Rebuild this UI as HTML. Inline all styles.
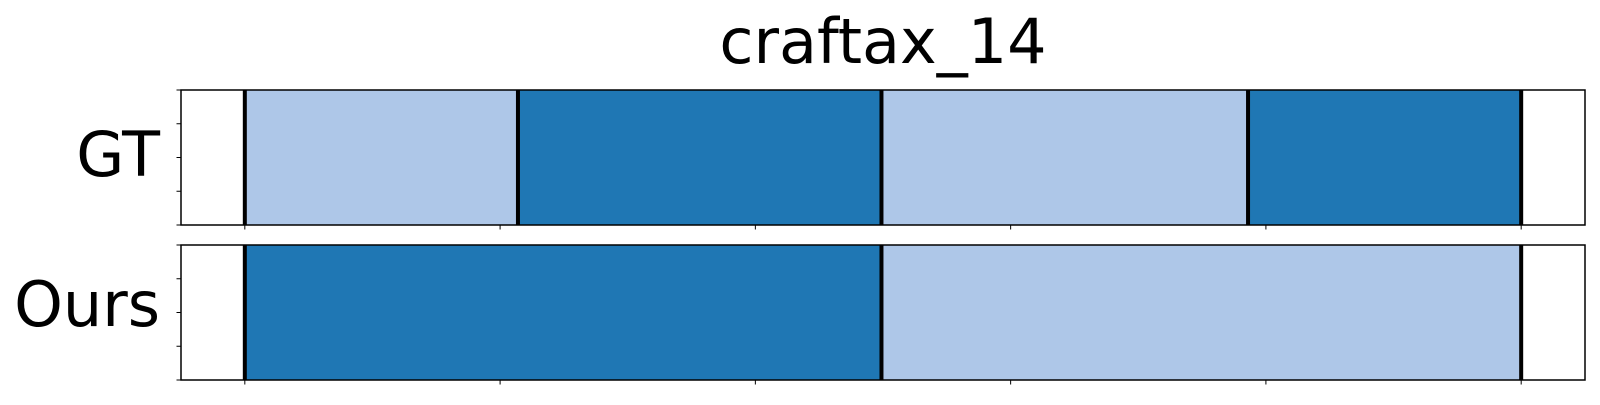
<!DOCTYPE html>
<html><head><meta charset="utf-8"><style>
html,body{margin:0;padding:0;background:#fff;}
svg text{font-family:"DejaVu Sans","Liberation Sans",sans-serif;fill:#000;}
</style></head><body>
<svg id="chart" width="1600" height="400" viewBox="0 0 1600 400" xmlns="http://www.w3.org/2000/svg">
<text x="883" y="63" font-size="62" text-anchor="middle">craftax_14</text>
<g id="plots"></g>
</svg>
<script>
const rowLabels = ["GT", "Ours"];
const gtBounds = [0, 53.5, 124.7, 196.5, 250];
const gtColors = ["light", "dark", "light", "dark"];
const oursBounds = [0, 124.7, 250];
const oursColors = ["dark", "light"];
const xTicks = [0, 50, 100, 150, 200, 250];
const yTicks = [0, 0.25, 0.5, 0.75, 1];

const NS = "http://www.w3.org/2000/svg";
const X0 = 181, X1 = 1585, XMIN = -12.5, XMAX = 262.5;
const xs = v => X0 + (v - XMIN) / (XMAX - XMIN) * (X1 - X0);
const palette = {light: "#aec7e8", dark: "#1f77b4"};
const panels = [
  {label: rowLabels[0], bounds: gtBounds, colors: gtColors, top: 90, bottom: 225, ly: 176},
  {label: rowLabels[1], bounds: oursBounds, colors: oursColors, top: 245, bottom: 380, ly: 326}
];
const root = document.getElementById("plots");
function mk(tag, attrs) {
  const e = document.createElementNS(NS, tag);
  for (const k in attrs) e.setAttribute(k, attrs[k]);
  root.appendChild(e);
  return e;
}
panels.forEach((p, pi) => {
  const ys = v => p.bottom - v * (p.bottom - p.top);
  for (let i = 0; i < p.colors.length; i++) {
    const r = mk("rect", {x: xs(p.bounds[i]), y: p.top, width: xs(p.bounds[i + 1]) - xs(p.bounds[i]), height: p.bottom - p.top, fill: palette[p.colors[i]]});
    
    
  }
  p.bounds.forEach((b, i) => {
    const l = mk("line", {x1: xs(b), x2: xs(b), y1: p.top, y2: p.bottom, stroke: "#000", "stroke-width": 4});
    
    
  });
  const frame = mk("rect", {x: X0, y: p.top, width: X1 - X0, height: p.bottom - p.top, fill: "none", stroke: "#000", "stroke-width": 1.5});
  
  
  yTicks.forEach(t => {
    const tk = mk("line", {x1: X0 - 4.5, x2: X0, y1: ys(t), y2: ys(t), stroke: "#000", "stroke-width": 1});
    
    
  });
  xTicks.forEach(t => {
    const tk = mk("line", {x1: xs(t), x2: xs(t), y1: p.bottom, y2: p.bottom + 4.5, stroke: "#000", "stroke-width": 1});
    
    
  });
  const lb = mk("text", {x: 160, y: p.ly, "font-size": 62, "text-anchor": "end"});
  lb.textContent = p.label;
  
  
});
</script>
</body></html>
